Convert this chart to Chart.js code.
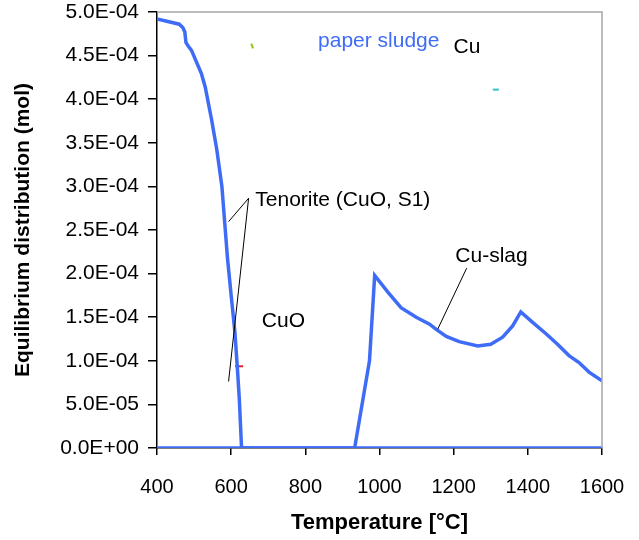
<!DOCTYPE html>
<html>
<head>
<meta charset="utf-8">
<script src="https://cdn.jsdelivr.net/npm/chart.js@4.4.1/dist/chart.umd.min.js"></script>
<style>
  html, body { margin: 0; padding: 0; background: #fff; }
  canvas { display: block; }
</style>
</head>
<body>
<canvas id="chart" width="639" height="540"></canvas>
<script>
// CuO (tenorite) in the paper sludge run, mol vs temperature
const cuoTemps = [400, 460, 470, 475, 478, 484, 493, 520, 530, 547, 561, 575, 590, 600, 610, 617, 622, 628, 1600];
const cuoValues = [4.92e-4, 4.86e-4, 4.82e-4, 4.77e-4, 4.65e-4, 4.61e-4, 4.56e-4, 4.29e-4, 4.14e-4, 3.77e-4,
  3.43e-4, 3.0e-4, 2.18e-4, 1.75e-4, 1.33e-4, 0.9e-4, 0.56e-4, 0, 0];

// Cu dissolved in the slag
const slagTemps = [400, 933, 973, 987, 1022, 1058, 1099, 1135, 1153, 1180, 1215, 1265, 1300, 1332, 1359, 1381,
  1413, 1449, 1480, 1511, 1538, 1565, 1600];
const slagValues = [0, 0, 1.0e-4, 1.98e-4, 1.79e-4, 1.61e-4, 1.5e-4, 1.42e-4, 1.36e-4, 1.28e-4, 1.22e-4, 1.17e-4,
  1.19e-4, 1.27e-4, 1.4e-4, 1.56e-4, 1.44e-4, 1.31e-4, 1.19e-4, 1.06e-4, 0.98e-4, 0.87e-4, 0.77e-4];

// stray single-point series
const strayTemps = [621.6, 1313.7, 656.6];
const strayValues = [0.937e-4, 4.11e-4, 4.61e-4];
const strayColors = ['#e8202a', '#2bc4c9', '#9ac21c'];

const xTicks = [400, 600, 800, 1000, 1200, 1400, 1600];

const BLUE = '#3f6cf6';
const FONT = "'Liberation Sans', Arial, sans-serif";

function toPoints(xs, ys) {
  return xs.map((x, i) => ({ x: x, y: ys[i] }));
}

function sciLabel(v) {
  if (Math.abs(v) < 1e-12) return '0.0E+00';
  let e = Math.floor(Math.log10(Math.abs(v)) + 1e-9);
  let m = Math.round(v / Math.pow(10, e) * 10) / 10;
  if (m >= 10) { m /= 10; e += 1; }
  return m.toFixed(1) + 'E' + (e < 0 ? '-' : '+') + String(Math.abs(e)).padStart(2, '0');
}

// labels and leader lines, placed in data units
const notes = [
  { text: 'paper sludge', x: 998, y: 4.60e-4, align: 'center', color: BLUE },
  { text: 'Cu', x: 1236, y: 4.53e-4, align: 'center', color: '#000' },
  { text: 'Tenorite (CuO, S1)', x: 665, y: 2.775e-4, align: 'left', color: '#000' },
  { text: 'CuO', x: 741, y: 1.386e-4, align: 'center', color: '#000' },
  { text: 'Cu-slag', x: 1302, y: 2.13e-4, align: 'center', color: '#000' },
];
const leaders = [
  [[647, 2.864e-4], [593, 2.596e-4]],
  [[647, 2.864e-4], [593, 0.763e-4]],
  [[1235, 2.062e-4], [1157, 1.363e-4]],
];

const notesPlugin = {
  id: 'notes',
  afterDraw(chart) {
    const { ctx, chartArea: a, scales: { x, y } } = chart;
    ctx.save();
    // grey frame on the top and right
    ctx.strokeStyle = '#a6a6a6';
    ctx.lineWidth = 1.5;
    ctx.beginPath();
    ctx.moveTo(a.left, a.top);
    ctx.lineTo(a.right, a.top);
    ctx.lineTo(a.right, a.bottom);
    ctx.stroke();

    ctx.strokeStyle = '#000';
    ctx.lineWidth = 1;
    leaders.forEach(([p, q]) => {
      ctx.beginPath();
      ctx.moveTo(x.getPixelForValue(p[0]), y.getPixelForValue(p[1]));
      ctx.lineTo(x.getPixelForValue(q[0]), y.getPixelForValue(q[1]));
      ctx.stroke();
    });

    ctx.font = '21px ' + FONT;
    ctx.textBaseline = 'alphabetic';
    notes.forEach((n) => {
      ctx.fillStyle = n.color;
      ctx.textAlign = n.align;
      ctx.fillText(n.text, x.getPixelForValue(n.x), y.getPixelForValue(n.y));
    });
    ctx.restore();
  },
};

const data = {
  datasets: [
    {
      label: 'CuO',
      data: toPoints(cuoTemps, cuoValues),
      borderColor: BLUE,
      borderWidth: 3.5,
      pointRadius: 0,
      tension: 0,
      fill: false,
    },
    {
      label: 'Cu-slag',
      data: toPoints(slagTemps, slagValues),
      borderColor: BLUE,
      borderWidth: 3.5,
      pointRadius: 0,
      tension: 0,
      fill: false,
    },
    {
      type: 'scatter',
      label: 'other',
      data: toPoints(strayTemps, strayValues),
      showLine: false,
      pointStyle: 'line',
      pointRadius: [4, 3, 2.5],
      pointRotation: [0, 0, 70],
      borderWidth: 2,
      borderColor: strayColors,
      backgroundColor: strayColors,
    },
  ],
};

const config = {
  type: 'line',
  data,
  options: {
    responsive: false,
    animation: false,
    layout: { padding: { top: 12, right: 37, left: 0, bottom: 0 } },
    scales: {
      x: {
        type: 'linear',
        min: 400,
        max: 1600,
        afterBuildTicks: (scale) => { scale.ticks = xTicks.map((v) => ({ value: v })); },
        afterFit: (scale) => {
          scale.height = 92;
          scale.paddingLeft = 0;
          scale.paddingRight = 0;
        },
        border: { color: '#000', width: 1.5 },
        grid: { display: true, drawOnChartArea: false, tickLength: 7, color: '#000', lineWidth: 1.5 },
        ticks: {
          color: '#000',
          padding: 20,
          font: { family: FONT, size: 20 },
          callback: (v) => String(v),
        },
        title: {
          display: true,
          text: 'Temperature [°C]',
          color: '#000',
          font: { family: FONT, size: 22, weight: 'bold' },
          padding: { top: 0, bottom: 4 },
        },
      },
      y: {
        min: 0,
        max: 5e-4,
        afterFit: (scale) => {
          scale.width = 157;
          scale.paddingTop = 0;
          scale.paddingBottom = 0;
        },
        border: { color: '#000', width: 1.5 },
        grid: { display: true, drawOnChartArea: false, tickLength: 9, color: '#000', lineWidth: 1.5 },
        ticks: {
          stepSize: 5e-5,
          color: '#000',
          padding: 9,
          font: { family: FONT, size: 21 },
          callback: (v) => sciLabel(v),
        },
        title: {
          display: true,
          text: 'Equilibrium distribution (mol)',
          color: '#000',
          font: { family: FONT, size: 21, weight: 'bold' },
          padding: { top: 11, bottom: 0 },
        },
      },
    },
    plugins: {
      legend: { display: false },
      tooltip: { enabled: false },
      title: { display: false },
    },
  },
  plugins: [notesPlugin],
};

new Chart(document.getElementById('chart'), config);
</script>
</body>
</html>
